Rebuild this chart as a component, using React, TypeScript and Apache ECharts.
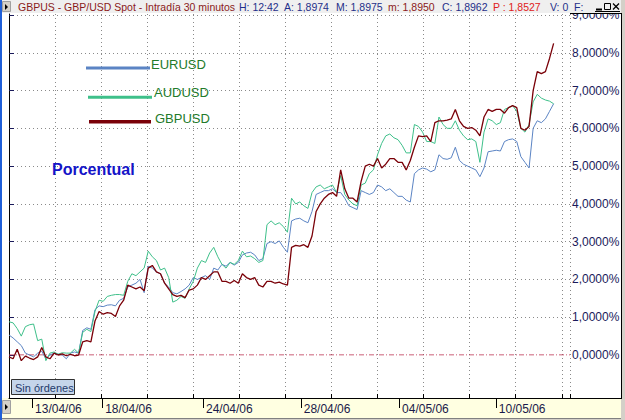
import React, { useEffect, useRef } from "react";
import * as echarts from "echarts";

const FONT = "'Liberation Sans', Arial, sans-serif";

// bars (30-minute periods) between two consecutive samples
const STEP = 8;
const X_MAX = 1096;

// percentage change, sampled every STEP bars
const eurusd = [
  0.53, 0.45, 0.35, 0.25, 0.05, 0.0, -0.05, 0.05, 0.1, -0.1,
  0.0, 0.05, 0.02, 0.0, -0.1, 0.05, 0.08, 0.05, 0.65, 0.72,
  0.68, 1.2, 1.3, 1.28, 1.32, 1.33, 1.3, 1.45, 1.5, 1.8,
  1.85, 1.9, 2.0, 1.65, 2.35, 2.3, 2.2, 2.15, 1.9, 1.8,
  1.65, 1.62, 1.68, 1.75, 1.85, 2.05, 2.0, 2.05, 2.1, 2.0,
  2.3, 2.25, 2.4, 2.35, 2.45, 2.38, 2.45, 2.65, 2.7, 2.72,
  2.65, 2.5, 2.55, 2.95, 3.0, 2.95, 3.02, 2.85, 2.72, 3.55,
  3.6, 3.62, 3.55, 3.5, 3.8, 4.25, 4.3, 4.35, 4.35, 4.4,
  4.3, 4.3, 4.15, 3.95, 3.9, 3.85, 4.35, 4.3, 4.25, 4.3,
  4.5, 4.45, 4.35, 4.4, 4.3, 4.2, 4.2, 4.1, 4.05, 4.8,
  4.9, 4.95, 4.92, 4.85, 4.9, 5.3, 5.2, 5.18, 5.22, 5.5,
  5.15, 5.05, 5.0, 4.95, 4.9, 4.72, 4.95, 5.38, 5.4, 5.42,
  5.4, 5.65, 5.7, 5.72, 5.65, 5.25, 5.1, 4.95, 6.0, 6.2,
  6.15, 6.25, 6.45, 6.65,
];

const audusd = [
  0.88, 0.85, 0.7, 0.5, 0.75, 0.8, 0.82, 0.38, 0.42, -0.15,
  0.05, 0.08, 0.02, 0.06, 0.05, 0.05, 0.15, 0.05, 0.6, 0.68,
  0.62, 1.15, 1.45, 1.42, 1.55, 1.58, 1.6, 1.6, 1.58, 1.95,
  2.15, 2.1, 2.2, 2.3, 2.75, 2.6, 2.5, 2.25, 2.3, 2.05,
  1.4, 1.45, 1.55, 1.5, 1.75, 1.95, 2.3, 2.5, 2.45, 2.7,
  2.85, 2.6, 2.4, 2.3, 2.45, 2.4, 2.5, 2.75, 2.6, 2.62,
  2.55, 2.45, 2.5, 3.45, 3.55, 3.45, 3.5, 3.4, 3.25, 4.15,
  4.0, 4.05, 3.95, 3.88, 4.3, 4.45, 4.5, 4.4, 4.45, 4.5,
  4.3, 4.75, 4.25, 4.1, 4.0, 3.95, 4.5, 4.55, 4.8, 4.9,
  5.3, 5.6, 5.8, 5.85, 5.75, 5.7, 5.55, 5.35, 5.35, 6.1,
  6.05, 5.9, 5.65, 5.65, 5.6, 6.3, 6.1, 6.0, 6.0, 6.2,
  5.95, 5.8, 5.7, 5.72, 5.65, 5.1, 5.9, 6.25, 6.2, 6.1,
  6.15, 6.5, 6.55, 6.6, 6.45, 6.0, 5.9, 6.1, 6.7, 6.9,
  6.8, 6.75, 6.72, 6.65,
];

const gbpusd = [
  -0.05, -0.1, 0.15, -0.15, -0.03, -0.08, -0.12, -0.05, 0.2, -0.05,
  -0.1, 0.05, 0.0, 0.03, -0.02, 0.02, -0.02, 0.0, 0.35, 0.38,
  0.35, 0.9, 1.15, 1.08, 1.12, 1.1, 1.02, 1.3, 1.45, 1.85,
  1.8, 1.75, 1.8, 1.7, 2.3, 2.37, 2.2, 2.15, 1.9, 1.75,
  1.6, 1.55, 1.58, 1.52, 1.72, 1.75, 1.85, 2.05, 2.0, 2.1,
  2.2, 2.2, 1.95, 1.95, 1.9, 1.97, 1.9, 2.15, 2.05, 2.0,
  2.05, 1.85, 1.8, 1.95, 1.95, 1.9, 1.93, 1.88, 1.85, 2.85,
  2.9, 2.88, 2.92, 2.85, 3.15, 3.8, 4.0, 4.15, 4.25, 4.3,
  4.2, 4.9, 4.4, 4.15, 4.15, 4.05, 4.6, 5.0, 5.05, 5.0,
  5.2, 4.95, 5.05, 5.2, 5.2, 5.1, 5.1, 4.9, 5.15, 5.5,
  5.8, 5.78, 5.8, 5.65, 6.15, 6.2, 6.2, 6.22, 6.25, 6.5,
  6.2, 6.05, 6.0, 6.02, 5.95, 5.8, 6.3, 6.5, 6.45, 6.5,
  6.5, 6.4, 6.55, 6.6, 6.55, 6.0, 5.95, 6.05, 7.0, 7.5,
  7.45, 7.5, 7.85, 8.25,
];

// reference level drawn as a dash-dot line
const zeroLevel = [0, 0];

// date axis: bar index where each labelled day starts
const dateTickBars = [45, 182, 379, 570, 762, 951];
const dateLabels = ["13/04/06", "18/04/06", "24/04/06", "28/04/06", "04/05/06", "10/05/06"];

const seriesNames = ["EURUSD", "AUDUSD", "GBPUSD"];
const seriesColors = ["#5b84c4", "#3ec08a", "#7a0008"];
const ZERO_LINE_COLOR = "#b82848";

const titleSegments = [
  { text: "GBPUS - GBP/USD Spot - Intradía 30 minutos", x: 18, color: "#8b1a1a" },
  { text: "H: 12:42", x: 239, color: "#1f2f8a" },
  { text: "A: 1,8974", x: 284, color: "#1f2f8a" },
  { text: "M: 1,8975", x: 336, color: "#1f2f8a" },
  { text: "m: 1,8950", x: 388, color: "#8b1a1a" },
  { text: "C: 1,8962", x: 442, color: "#1f2f8a" },
  { text: "P : 1,8527", x: 493, color: "#e02020" },
  { text: "V: 0", x: 550, color: "#1f2f8a" },
  { text: "F:", x: 574, color: "#1f2f8a" },
];

const toPairs = (arr: number[]) => arr.map((v, i) => [i * STEP, v]);

export default function App() {
  const ref = useRef<HTMLDivElement>(null);

  useEffect(() => {
    if (!ref.current) return;
    const chart = echarts.init(ref.current, null, { renderer: "svg", width: 625, height: 420 });

    const gridLineColors = ["rgba(0,0,0,0)"].concat(Array(9).fill("#8a8a8a"));

    const legendY = [68, 97.3, 121.7];
    const legendX1 = [86, 88, 89];
    const legendX2 = [150, 152, 151];
    const legendTextX = [151, 154, 155];
    const legendTextY = [64, 92, 118];

    const graphics: any[] = [
      // bottom strip
      { type: "rect", z: -1, shape: { x: 0, y: 398, width: 625, height: 20 }, style: { fill: "#ffffe1" } },
      { type: "rect", z: 100, shape: { x: 0, y: 418, width: 625, height: 2 }, style: { fill: "#d4d0c8" } },
      { type: "line", z: 100, shape: { x1: 0, y1: 418.5, x2: 625, y2: 418.5 }, style: { stroke: "#808080", lineWidth: 1 } },
      { type: "rect", z: 100, shape: { x: 2.5, y: 400.5, width: 8, height: 13 }, style: { fill: "#d4d0c8", stroke: "#a0a0a0", lineWidth: 1 } },
      { type: "polygon", z: 101, shape: { points: [[5, 404], [5, 410], [8, 407]] }, style: { fill: "#000" } },
      // title bar
      { type: "rect", z: 100, shape: { x: 0, y: 0, width: 625, height: 13 }, style: { fill: "#efefef" } },
      { type: "rect", z: 101, shape: { x: 2.5, y: 1.5, width: 8, height: 10 }, style: { fill: "#d4d0c8", stroke: "#a0a0a0", lineWidth: 1 } },
      { type: "polygon", z: 102, shape: { points: [[5, 4], [5, 10], [8, 7]] }, style: { fill: "#000" } },
      ...titleSegments.map((s) => ({
        type: "text",
        z: 102,
        style: { text: s.text, x: s.x, y: 7, fill: s.color, font: `10.5px ${FONT}`, verticalAlign: "middle" },
      })),
      // window buttons: minimise, maximise, close
      { type: "line", z: 102, shape: { x1: 596, y1: 9.5, x2: 602, y2: 9.5 }, style: { stroke: "#000", lineWidth: 2 } },
      { type: "rect", z: 102, shape: { x: 604.5, y: 3.5, width: 6, height: 6 }, style: { fill: "none", stroke: "#000", lineWidth: 1 } },
      { type: "line", z: 102, shape: { x1: 613, y1: 3.5, x2: 619, y2: 9.5 }, style: { stroke: "#000", lineWidth: 1.3 } },
      { type: "line", z: 102, shape: { x1: 619, y1: 3.5, x2: 613, y2: 9.5 }, style: { stroke: "#000", lineWidth: 1.3 } },
      { type: "line", z: 102, shape: { x1: 595, y1: 11.5, x2: 620, y2: 11.5 }, style: { stroke: "#000", lineWidth: 1 } },
      // right panel frame
      { type: "line", z: 100, shape: { x1: 570, y1: 13.5, x2: 621, y2: 13.5 }, style: { stroke: "#000", lineWidth: 1 } },
      { type: "line", z: 100, shape: { x1: 570, y1: 398.5, x2: 621, y2: 398.5 }, style: { stroke: "#000", lineWidth: 1 } },
      { type: "rect", z: 100, shape: { x: 621, y: 0, width: 4, height: 420 }, style: { fill: "#d4d0c8" } },
      { type: "line", z: 101, shape: { x1: 621.5, y1: 13, x2: 621.5, y2: 399 }, style: { stroke: "#000", lineWidth: 1 } },
      // left window border
      { type: "rect", z: 110, shape: { x: 0, y: 0, width: 2, height: 420 }, style: { fill: "#1f5fd8" } },
      // legend
      ...seriesNames.map((n, k) => ({
        type: "line",
        z: 50,
        shape: { x1: legendX1[k], y1: legendY[k], x2: legendX2[k], y2: legendY[k] },
        style: { stroke: seriesColors[k], lineWidth: k === 2 ? 3.5 : 3 },
      })),
      ...seriesNames.map((n, k) => ({
        type: "text",
        z: 50,
        style: { text: n, x: legendTextX[k], y: legendTextY[k], fill: "#237a2a", font: `13px ${FONT}`, verticalAlign: "middle" },
      })),
      {
        type: "text",
        z: 50,
        style: { text: "Porcentual", x: 52, y: 169, fill: "#1414c8", font: `bold 16px ${FONT}`, verticalAlign: "middle" },
      },
      // status box
      { type: "rect", z: 50, shape: { x: 11.5, y: 379.5, width: 63, height: 15 }, style: { fill: "#c5d5ea", stroke: "#303030", lineWidth: 1 } },
      { type: "text", z: 51, style: { text: "Sin órdenes", x: 15, y: 387.5, fill: "#1f3a6a", font: `11px ${FONT}`, verticalAlign: "middle" } },
    ];

    const option: any = {
      animation: false,
      backgroundColor: "#ffffff",
      textStyle: { fontFamily: FONT },
      grid: [
        { left: 9, right: 55, top: 14, bottom: 22 },
        { left: 9, right: 55, top: 15, height: 340 },
        { left: 9, right: 55, top: 14, bottom: 22 },
      ],
      xAxis: [
        {
          gridIndex: 0,
          type: "value",
          min: 0,
          max: X_MAX,
          interval: 90,
          position: "bottom",
          axisLine: { show: true, lineStyle: { color: "#000", width: 1 } },
          axisTick: { show: true, inside: true, length: 4, lineStyle: { color: "#000" } },
          axisLabel: { show: false },
          splitLine: { show: true, lineStyle: { color: "#8a8a8a", type: [1, 3], width: 1 } },
        },
        { gridIndex: 1, type: "value", min: 0, max: X_MAX, show: false },
        {
          gridIndex: 2,
          type: "value",
          min: 0,
          max: X_MAX,
          position: "bottom",
          axisLine: { show: false },
          axisTick: { show: true, length: 10, customValues: dateTickBars, lineStyle: { color: "#000" } },
          axisLabel: {
            show: true,
            customValues: dateTickBars,
            formatter: (v: number) => {
              const k = dateTickBars.indexOf(Math.round(v));
              return k >= 0 ? dateLabels[k] : "";
            },
            align: "left",
            padding: [0, 0, 0, 3],
            margin: 5,
            color: "#1a1a4a",
            fontSize: 12,
            fontFamily: FONT,
          },
          splitLine: { show: false },
        },
      ],
      yAxis: [
        {
          gridIndex: 0,
          type: "value",
          min: 0,
          max: 1,
          position: "right",
          axisLine: { show: true, lineStyle: { color: "#000", width: 1 } },
          axisTick: { show: false },
          axisLabel: { show: false },
          splitLine: { show: false },
        },
        {
          gridIndex: 1,
          type: "value",
          min: 0,
          max: 9,
          interval: 1,
          position: "right",
          axisLine: { show: false },
          axisTick: { show: true, length: 5, lineStyle: { color: "#1a1a5a" } },
          axisLabel: {
            margin: 2,
            color: "#1a1a5a",
            fontSize: 12,
            fontFamily: FONT,
            formatter: (v: number) => v.toFixed(4).replace(".", ",") + "%",
          },
          splitLine: { show: true, lineStyle: { color: gridLineColors, type: [1, 3], width: 1 } },
        },
        { gridIndex: 2, type: "value", min: 0, max: 1, show: false },
      ],
      series: [
        {
          name: "zero",
          type: "line",
          xAxisIndex: 1,
          yAxisIndex: 1,
          data: [[0, zeroLevel[0]], [X_MAX, zeroLevel[1]]],
          showSymbol: false,
          symbol: "none",
          silent: true,
          z: 2,
          lineStyle: { color: ZERO_LINE_COLOR, type: [5, 2, 1, 2], width: 1 },
        },
        {
          name: seriesNames[0],
          type: "line",
          xAxisIndex: 1,
          yAxisIndex: 1,
          data: toPairs(eurusd),
          showSymbol: false,
          symbol: "none",
          clip: false,
          lineStyle: { color: seriesColors[0], width: 1 },
          z: 3,
        },
        {
          name: seriesNames[1],
          type: "line",
          xAxisIndex: 1,
          yAxisIndex: 1,
          data: toPairs(audusd),
          showSymbol: false,
          symbol: "none",
          clip: false,
          lineStyle: { color: seriesColors[1], width: 1 },
          z: 4,
        },
        {
          name: seriesNames[2],
          type: "line",
          xAxisIndex: 1,
          yAxisIndex: 1,
          data: toPairs(gbpusd),
          showSymbol: false,
          symbol: "none",
          clip: false,
          lineStyle: { color: seriesColors[2], width: 1.3 },
          z: 5,
        },
      ],
      graphic: { elements: graphics },
    };

    chart.setOption(option);
    return () => chart.dispose();
  }, []);

  return (
    <div
      ref={ref}
      style={{ position: "fixed", left: 0, top: 0, width: 625, height: 420, background: "#fff" }}
    />
  );
}
